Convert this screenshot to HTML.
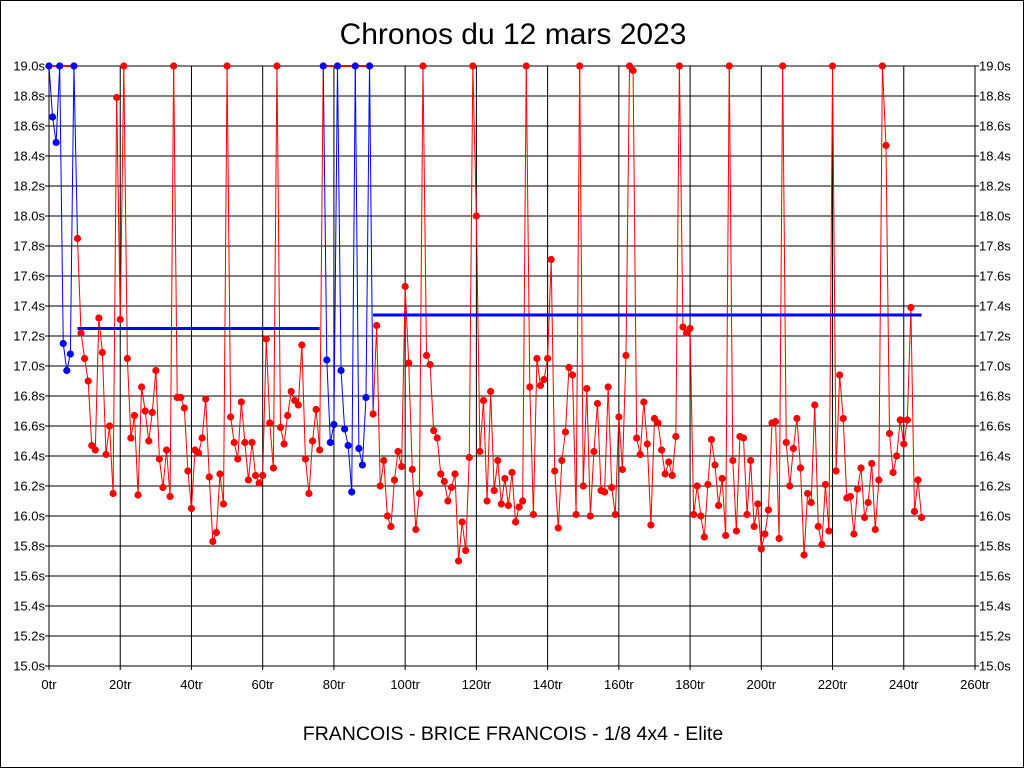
<!DOCTYPE html>
<html><head><meta charset="utf-8"><style>
html,body{margin:0;padding:0;background:#fff;}
svg{display:block;font-family:"Liberation Sans",Arial,sans-serif;}
</style></head><body>
<svg id="chart" width="1024" height="768" viewBox="0 0 1024 768">
<rect x="0.5" y="0.5" width="1023" height="767" fill="#fff" stroke="#000"/>
<text x="513" y="44" font-size="30" text-anchor="middle">Chronos du 12 mars 2023</text>
<text x="513" y="740" font-size="19.5" text-anchor="middle">FRANCOIS - BRICE FRANCOIS - 1/8 4x4 - Elite</text>
<g id="grid"></g><g id="series"></g>
</svg>
<script>
const lapTimes = [19.0,18.66,18.49,19.0,17.15,16.97,17.08,19.0,
17.85,17.22,17.05,16.90,16.47,16.44,17.32,17.09,16.41,16.60,16.15,18.79,17.31,19.0,17.05,16.52,16.67,16.14,16.86,16.70,16.50,16.69,16.97,16.38,16.19,16.44,16.13,19.0,16.79,16.79,16.72,16.30,16.05,16.44,16.42,16.52,16.78,16.26,15.83,15.89,16.28,16.08,19.0,16.66,16.49,16.38,16.76,16.49,16.24,16.49,16.27,16.22,16.27,17.18,16.62,16.32,19.0,16.59,16.48,16.67,16.83,16.77,16.74,17.14,16.38,16.15,16.50,16.71,16.44,
19.0,17.04,16.49,16.61,19.0,16.97,16.58,16.47,16.16,19.0,16.45,16.34,16.79,19.0,
16.68,17.27,16.20,16.37,16.00,15.93,16.24,16.43,16.33,17.53,17.02,16.31,15.91,16.15,19.0,17.07,17.01,16.57,16.52,16.28,16.23,16.10,16.19,16.28,15.70,15.96,15.77,16.39,19.0,18.00,16.43,16.77,16.10,16.83,16.17,16.37,16.08,16.25,16.07,16.29,15.96,16.06,16.10,19.0,16.86,16.01,17.05,16.87,16.91,17.05,17.71,16.30,15.92,16.37,16.56,16.99,16.94,16.01,19.0,16.20,16.85,16.00,16.43,16.75,16.17,16.16,16.86,16.19,16.01,16.66,16.31,17.07,19.0,18.97,16.52,16.41,16.76,16.48,15.94,16.65,16.62,16.44,16.28,16.36,16.27,16.53,19.0,17.26,17.22,17.25,16.01,16.20,16.00,15.86,16.21,16.51,16.34,16.07,16.25,15.87,19.0,16.37,15.90,16.53,16.52,16.01,16.37,15.93,16.08,15.78,15.88,16.04,16.62,16.63,15.85,19.0,16.49,16.20,16.45,16.65,16.32,15.74,16.15,16.09,16.74,15.93,15.81,16.21,15.90,19.0,16.30,16.94,16.65,16.12,16.13,15.88,16.18,16.32,15.99,16.09,16.35,15.91,16.24,19.0,18.47,16.55,16.29,16.40,16.64,16.48,16.64,17.39,16.03,16.24,15.99];
const blueRanges = [[0,7],[77,90]];
const averageStarts = [8,91];
const averageEnds = [76,245];
const averageValues = [17.25,17.34];
const xTicks = [0,20,40,60,80,100,120,140,160,180,200,220,240,260];
const yTicks = [15.0,15.2,15.4,15.6,15.8,16.0,16.2,16.4,16.6,16.8,17.0,17.2,17.4,17.6,17.8,18.0,18.2,18.4,18.6,18.8,19.0];

const L=49,R=975,T=66,B=666;
const xs=v=>L+(v/260)*(R-L);
const ys=v=>B-(v-15)/4*(B-T);
const NS="http://www.w3.org/2000/svg";
function mk(tag,attrs,parent){const e=document.createElementNS(NS,tag);for(const k in attrs)e.setAttribute(k,attrs[k]);parent.appendChild(e);return e;}
const grid=document.getElementById('grid'), ser=document.getElementById('series');
mk('rect',{x:L,y:T,width:R-L,height:B-T,fill:'none',stroke:'#000'},grid);
yTicks.forEach(v=>{
  const y=ys(v);
  const ln=mk('line',{x1:L-4,x2:R+4,y1:y,y2:y,stroke:'#000','stroke-width':1},grid);
  
  
  const t1=mk('text',{x:L-4,y:y+4.5,'font-size':13,'text-anchor':'end'},grid);
  t1.textContent=v.toFixed(1)+'s';
  
  
  const t2=mk('text',{x:R+4,y:y+4.5,'font-size':13},grid);
  t2.textContent=v.toFixed(1)+'s';
  
  
});
xTicks.forEach(v=>{
  const x=xs(v);
  const ln=mk('line',{x1:x,x2:x,y1:T,y2:B+4,stroke:'#000','stroke-width':1},grid);
  
  
  const t=mk('text',{x:x,y:B+23,'font-size':13,'text-anchor':'middle'},grid);
  t.textContent=v+'tr';
  
  
});
const isBlue=i=>blueRanges.some(r=>i>=r[0]&&i<=r[1]);
blueRanges.forEach(r=>{
  const ln=mk('line',{x1:xs(r[0]),x2:xs(r[1]),y1:ys(19),y2:ys(19),stroke:'#f00','stroke-width':2},ser);
  
  
});
for(let i=0;i<lapTimes.length-1;i++){
  const ln=mk('line',{x1:xs(i),y1:ys(lapTimes[i]),x2:xs(i+1),y2:ys(lapTimes[i+1]),stroke:isBlue(i)?'#00f':'#f00','stroke-width':1},ser);
  
  
}
averageValues.forEach((v,k)=>{
  const ln=mk('line',{x1:xs(averageStarts[k]),x2:xs(averageEnds[k]),y1:ys(v),y2:ys(v),stroke:'#00f','stroke-width':3},ser);
  
  
});
lapTimes.forEach((v,i)=>{
  const c=mk('circle',{cx:xs(i),cy:ys(v),r:3.6,fill:isBlue(i)?'#00f':'#f00'},ser);
  
  
});
</script>
</body></html>
